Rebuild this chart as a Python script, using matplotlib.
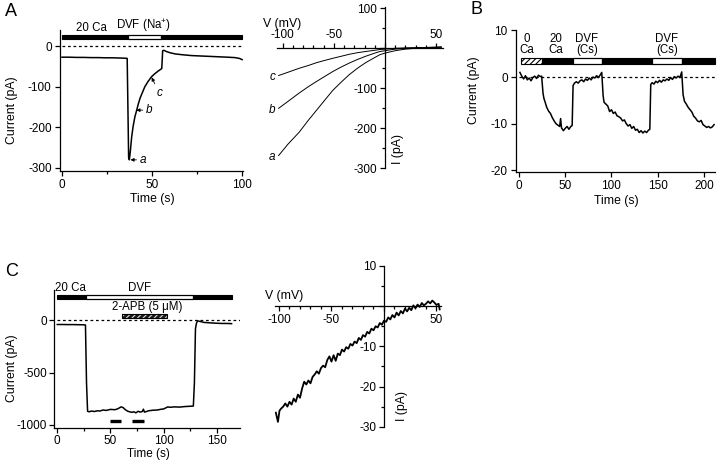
import matplotlib
matplotlib.use('Agg')
import matplotlib.pyplot as plt
from matplotlib.patches import Rectangle
from matplotlib.ticker import MultipleLocator

plt.rcParams['font.family'] = ['Liberation Sans', 'DejaVu Sans']
plt.rcParams['font.size'] = 8
plt.rcParams['axes.unicode_minus'] = False
plt.rcParams['mathtext.fontset'] = 'custom'
plt.rcParams['mathtext.rm'] = 'Liberation Sans'
plt.rcParams['mathtext.it'] = 'Liberation Sans:italic'
plt.rcParams['hatch.linewidth'] = 0.8

# ---------------- data ----------------
# Panel A, time course (s, pA)
tA = [0, 4, 8, 12, 16, 20, 24, 28, 32, 35, 36.2, 36.6, 37.0, 37.4, 37.9, 38.7, 39.5,
      40.5, 41.5, 42.3, 43.3, 44.5, 46.0, 47.8, 49.8, 51.5, 53.5, 54.8, 55.4, 55.9,
      56.6, 58, 60, 63, 67, 72, 77, 82, 87, 92, 96, 98.5, 100]
IA = [-27, -27, -27.5, -27.5, -28, -28, -28.5, -28.5, -29, -29.5, -30, -150, -275, -281,
      -262, -224, -198, -174, -158, -144, -129, -116, -100, -87, -75, -68, -61, -57, -55,
      -11, -10, -13, -16, -19, -21, -23, -24, -25, -26, -27, -28, -30, -33]
barA_start = [0, 36.7, 54.8]
barA_end = [36.7, 54.8, 100]
barA_kind = ['black', 'white', 'black']

# Panel A, I-V curves (mV, pA)
V_A = [-104, -95, -84, -75, -67, -60, -51, -43, -35, -27, -19, -10, -5, 0, 10, 20, 30, 40, 50, 55]
I_a = [-268, -240, -210, -180, -155, -133, -105, -85, -66, -50, -36, -23, -16, -12, -6, -2, 0, 1, 2, 3]
I_b = [-150, -133, -112, -96, -83, -72, -58, -47, -37, -28, -20, -12, -8, -6, -2, 0, 1, 2, 3, 3]
I_c = [-68, -60, -50, -43, -36, -31, -25, -20, -15, -11, -8, -5, -3, -2, 0, 1, 1.5, 2, 2.5, 3]

# Panel B, time course (s, pA)
tB = [1, 3, 5, 7, 9, 11, 13, 15, 17, 19, 21, 23, 24.5,
      26, 27, 28, 30, 32, 34, 36, 38, 40, 42, 44, 45, 46, 48, 50, 52, 54, 56, 57.5,
      58.5, 60, 62, 64, 66, 68, 70, 72, 74, 76, 78, 80, 82, 84, 86, 88, 89.5,
      91, 92, 94, 96, 98, 100, 102, 104, 106, 108, 110, 112, 114, 116, 118, 120, 122,
      124, 126, 128, 130, 132, 134, 136, 138, 140, 141.5,
      142.5, 144, 146, 148, 150, 152, 154, 156, 158, 160, 162, 164, 166, 168, 170, 172, 174, 176,
      177.5, 179, 181, 183, 185, 187, 189, 191, 193, 195, 197, 199, 201, 203, 205, 207, 209, 211]
IB = [1.0, 0.2, -0.4, 0.3, -0.6, -0.2, -0.8, -0.1, 0.2, -0.3, 0.4, 0.1, 0.2,
      -3.5, -4.6, -5.2, -6.5, -7.3, -7.8, -8.7, -9.4, -10.0, -10.3, -10.6, -8.9, -10.9, -11.5,
      -11.0, -10.6, -11.2, -10.6, -10.4,
      -1.8, -1.3, -1.0, -1.3, -0.8, -0.6, -1.0, -0.4, -0.7, -0.2, -0.6, 0.0, -0.2, 0.3, -0.1, 0.5, 1.0,
      -4.0, -5.4, -5.8, -6.2, -7.4, -7.0, -7.8, -7.5, -8.3, -8.5, -8.8, -9.4, -9.2, -10.0, -10.5,
      -10.2, -11.0, -10.6, -11.4, -11.2, -11.9, -11.5, -12.0, -11.6, -11.9, -11.4, -11.2,
      -1.6, -1.2, -1.5, -0.9, -1.2, -0.7, -1.1, -0.6, -0.8, -0.4, -0.7, -0.1, -0.5, 0.1, -0.2, 0.2, -0.1, 1.1,
      -3.8, -5.2, -5.8, -6.5, -7.0, -7.5, -8.4, -8.8, -9.4, -9.6, -9.3, -10.2, -10.5, -10.8, -10.6,
      -10.9, -10.7, -10.2]
barB_start = [1.8, 24.5, 58.7, 89.7, 144, 176]
barB_end = [24.5, 58.7, 89.7, 144, 176, 212]
barB_kind = ['hatch', 'black', 'white', 'black', 'white', 'black']
barB_labels = ['0\nCa', '20\nCa', 'DVF\n(Cs)', 'DVF\n(Cs)']
barB_label_x = [8, 40, 73.5, 160]

# Panel C, time course (s, pA)
tC = [0, 5, 10, 15, 20, 25, 26.5, 27.5, 28.5, 30, 32, 35, 38, 40, 43, 46, 50, 54, 56, 58,
      60, 62, 64, 66, 68, 70, 72, 74, 76, 78, 80, 81, 82, 84, 86, 90, 94, 98, 100, 102, 104,
      106, 110, 115, 120, 125, 128, 129, 130, 131, 132, 134, 138, 145, 150, 155, 160, 164]
IC = [-40, -40, -41, -41, -42, -43, -45, -600, -870, -875, -868, -872, -865, -868, -858,
      -862, -852, -855, -850, -840, -828, -835, -855, -868, -875, -880, -875, -885, -870,
      -878, -872, -850, -878, -872, -865, -860, -858, -850, -848, -838, -828, -832, -828,
      -830, -825, -822, -820, -600, -80, -25, -5, -10, -20, -25, -28, -30, -30, -32]
barC_start = [0, 27, 128]
barC_end = [27, 128, 164.7]
barC_kind = ['black', 'white', 'black']
apb_start, apb_end = 60.6, 103
ramp_start = [49.7, 70]
ramp_end = [59.7, 81.6]

# Panel C, I-V (mV, pA)
V_C = [-103, -101, -99.5, -98, -96, -94, -92, -90, -88, -86, -84, -82, -80, -78, -76, -74,
       -72, -70, -68, -66, -64, -62, -60, -58, -56, -54, -52, -50, -48, -46, -44, -42, -40,
       -38, -36, -34, -32, -30, -28, -26, -24, -22, -20, -18, -16, -14, -12, -10, -8, -6,
       -4, -2, 0, 2, 4, 6, 8, 10, 12, 14, 16, 18, 20, 22, 24, 26, 28, 30, 32, 34, 36, 38,
       40, 42, 44, 46, 48, 50, 52, 53]
I_C = [-26.5, -28.8, -26.0, -25.5, -25.0, -24.2, -25.0, -23.8, -24.5, -23.0, -23.8, -22.0,
       -22.8, -20.5, -18.8, -19.5, -18.5, -19.2, -17.6, -17.0, -16.2, -16.8, -15.4, -14.8,
       -15.2, -13.4, -12.5, -13.8, -12.2, -13.6, -11.8, -12.2, -10.8, -11.3, -10.2, -10.6,
       -9.4, -9.8, -8.8, -9.2, -7.9, -8.4, -7.2, -7.6, -6.4, -6.8, -5.6, -6.0, -5.0, -5.3,
       -4.2, -4.6, -3.6, -3.9, -2.8, -3.3, -2.2, -2.8, -1.6, -2.3, -1.2, -1.8, -0.6, -1.3,
       -0.4, -1.0, 0.2, -0.5, 0.4, -0.2, 0.8, 0.2, 0.6, 1.2, 0.7, 1.4, 0.9, 0.3, 0.6, -0.8]

# ---------------- figure ----------------
W, H = 720, 466
fig = plt.figure(figsize=(7.2, 4.66), dpi=100)
TICK_FS = 8.5
LAB_FS = 8.8


def rect(l, t, r, b):
    return [l / W, 1 - b / H, (r - l) / W, (b - t) / H]


def ftext(x, y, s, **kw):
    fig.text(x / W, 1 - y / H, s, **kw)


def style_trace(ax, pad=2.5):
    for s in ['top', 'right']:
        ax.spines[s].set_visible(False)
    for s in ['left', 'bottom']:
        ax.spines[s].set_linewidth(0.9)
    ax.tick_params(which='major', length=3.5, width=0.9, pad=pad, labelsize=TICK_FS)
    ax.tick_params(which='minor', length=2.5, width=0.9)
    ax.patch.set_visible(False)


def draw_bar(ax, starts, ends, kinds, y0, h):
    for s, e, k in zip(starts, ends, kinds):
        if k == 'black':
            ax.add_patch(Rectangle((s, y0), e - s, h, facecolor='black', edgecolor='black',
                                   lw=0.8, clip_on=False, zorder=3))
        elif k == 'white':
            ax.add_patch(Rectangle((s, y0), e - s, h, facecolor='white', edgecolor='black',
                                   lw=0.9, clip_on=False, zorder=3))
        elif k == 'hatch':
            ax.add_patch(Rectangle((s, y0), e - s, h, facecolor='white', edgecolor='black',
                                   hatch='//////', lw=0.8, clip_on=False, zorder=3))
        elif k == 'darkhatch':
            ax.add_patch(Rectangle((s, y0), e - s, h, facecolor='#1a1a1a', edgecolor='#dddddd',
                                   hatch='//////', lw=0, clip_on=False, zorder=3))
            ax.add_patch(Rectangle((s, y0), e - s, h, fill=False, edgecolor='black',
                                   lw=0.8, clip_on=False, zorder=4))


def style_iv(ax, top_ticks):
    ax.patch.set_visible(False)
    ax.spines['right'].set_visible(False)
    ax.spines['left'].set_position(('data', 0))
    if top_ticks:
        ax.spines['bottom'].set_visible(False)
        ax.spines['top'].set_position(('data', 0))
        ax.xaxis.set_ticks_position('top')
    else:
        ax.spines['top'].set_visible(False)
        ax.spines['bottom'].set_position(('data', 0))
    for s in ax.spines.values():
        s.set_linewidth(0.9)
    ax.tick_params(which='major', length=3.5, width=0.9, pad=2.0, labelsize=TICK_FS)
    ax.tick_params(which='minor', length=2.5, width=0.9)
    ax.xaxis.set_minor_locator(MultipleLocator(10))


# ---- Panel A: time course ----
axA = fig.add_axes(rect(60, 30, 243, 171))
style_trace(axA)
axA.plot(tA, IA, color='black', lw=1.1)
axA.plot([0, 100], [0, 0], color='black', lw=0.9, ls=(0, (2.2, 2.2)))
axA.set_xlim(-1.1, 100.5)
axA.set_ylim(-308.6, 40.3)
axA.set_xticks([0, 50, 100])
axA.xaxis.set_minor_locator(MultipleLocator(25))
axA.set_yticks([0, -100, -200, -300])
draw_bar(axA, barA_start, barA_end, barA_kind, 17.3, 11.4)
axA.text(16.5, 31, '20 Ca', ha='center', va='bottom', fontsize=8.3, clip_on=False)
axA.text(45.5, 31, 'DVF (Na$^{+}$)', ha='center', va='bottom', fontsize=8.3, clip_on=False)
arr = dict(arrowstyle='-|>', lw=0.6, color='black', mutation_scale=5, shrinkA=0.5, shrinkB=0)
axA.annotate('a', xy=(38.0, -281), xytext=(43.3, -281), ha='left', va='center',
             fontstyle='italic', fontsize=8.5, arrowprops=arr)
axA.annotate('b', xy=(41.3, -158), xytext=(46.8, -158), ha='left', va='center',
             fontstyle='italic', fontsize=8.5, arrowprops=arr)
axA.annotate('c', xy=(49.8, -77), xytext=(54.0, -116), ha='center', va='center',
             fontstyle='italic', fontsize=8.5, arrowprops=arr)
ftext(152, 199, 'Time (s)', ha='center', va='center', fontsize=LAB_FS)
ftext(11.5, 110, 'Current (pA)', ha='center', va='center', rotation=90, fontsize=LAB_FS)
ftext(11, 12, 'A', ha='center', va='center', fontsize=13)

# ---- Panel A: I-V ----
axAiv = fig.add_axes(rect(276.7, 6.7, 443.3, 168.3))
style_iv(axAiv, top_ticks=True)
axAiv.plot(V_A, I_a, color='black', lw=0.7)
axAiv.plot(V_A, I_b, color='black', lw=0.7)
axAiv.plot(V_A, I_c, color='black', lw=0.7)
axAiv.set_xlim(-105.9, 57)
axAiv.set_ylim(-300, 104)
axAiv.set_xticks([-100, -50, 0, 50])
axAiv.set_xticklabels(['-100', '-50', '', '50'])
axAiv.set_yticks([100, 0, -100, -200, -300])
axAiv.set_yticklabels(['100', '', '-100', '-200', '-300'])
axAiv.yaxis.set_minor_locator(MultipleLocator(50))
for lab, yv in zip(['a', 'b', 'c'], [I_a[0], I_b[0], I_c[0]]):
    axAiv.text(-107.5, yv - 4, lab, ha='right', va='center', fontstyle='italic',
               fontsize=8.5, clip_on=False)
ftext(263, 24, 'V (mV)', ha='left', va='center', fontsize=LAB_FS)
ftext(397.5, 149, 'I (pA)', ha='center', va='center', rotation=90, fontsize=LAB_FS)

# ---- Panel B ----
axB = fig.add_axes(rect(516, 30, 715, 171.7))
style_trace(axB)
axB.plot(tB, IB, color='black', lw=1.1)
axB.plot([0, 212], [0, 0], color='black', lw=0.9, ls=(0, (2.2, 2.2)))
axB.set_xlim(-3.24, 212)
axB.set_ylim(-20.3, 10.1)
axB.set_xticks([0, 50, 100, 150, 200])
axB.set_yticks([10, 0, -10, -20])
draw_bar(axB, barB_start, barB_end, barB_kind, 2.73, 1.44)
for lab, xv in zip(barB_labels, barB_label_x):
    axB.text(xv, 4.45, lab, ha='center', va='bottom', fontsize=8.3, linespacing=0.95,
             clip_on=False)
ftext(616.7, 201, 'Time (s)', ha='center', va='center', fontsize=LAB_FS)
ftext(474, 90, 'Current (pA)', ha='center', va='center', rotation=90, fontsize=LAB_FS)
ftext(476, 10, 'B', ha='center', va='center', fontsize=13)

# ---- Panel C: time course ----
axC = fig.add_axes(rect(54, 290, 240, 428))
style_trace(axC, pad=1.5)
axC.plot(tC, IC, color='black', lw=1.1)
axC.plot([0, 172], [0, 0], color='black', lw=0.9, ls=(0, (2.2, 2.2)))
for s, e in zip(ramp_start, ramp_end):
    axC.plot([s, e], [-960, -960], color='black', lw=2.4, solid_capstyle='butt')
axC.set_xlim(-3.1, 171.9)
axC.set_ylim(-1030, 290)
axC.set_xticks([0, 50, 100, 150])
axC.xaxis.set_minor_locator(MultipleLocator(25))
axC.set_yticks([0, -500, -1000])
draw_bar(axC, barC_start, barC_end, barC_kind, 205, 40)
draw_bar(axC, [apb_start], [apb_end], ['darkhatch'], 22, 38)
axC.text(12, 252, '20 Ca', ha='center', va='bottom', fontsize=8.3, clip_on=False)
axC.text(77, 252, 'DVF', ha='center', va='bottom', fontsize=8.3, clip_on=False)
axC.text(85, 66, '2-APB (5 μM)', ha='center', va='bottom', fontsize=8.3, clip_on=False)
ftext(148, 454, 'Time (s)', ha='center', va='center', fontsize=8.5)
ftext(11.5, 368, 'Current (pA)', ha='center', va='center', rotation=90, fontsize=LAB_FS)
ftext(12, 271, 'C', ha='center', va='center', fontsize=13)

# ---- Panel C: I-V ----
axCiv = fig.add_axes(rect(275, 266, 440.7, 426.7))
style_iv(axCiv, top_ticks=False)
axCiv.plot(V_C, I_C, color='black', lw=1.3)
axCiv.set_xlim(-103.8, 54)
axCiv.set_ylim(-30, 10)
axCiv.set_xticks([-100, -50, 0, 50])
axCiv.set_xticklabels(['-100', '-50', '', '50'])
axCiv.set_yticks([10, 0, -10, -20, -30])
axCiv.set_yticklabels(['10', '', '-10', '-20', '-30'])
axCiv.yaxis.set_minor_locator(MultipleLocator(5))
ftext(265, 296, 'V (mV)', ha='left', va='center', fontsize=LAB_FS)
ftext(401.7, 406, 'I (pA)', ha='center', va='center', rotation=90, fontsize=LAB_FS)

fig.savefig('out.png', dpi=100)
